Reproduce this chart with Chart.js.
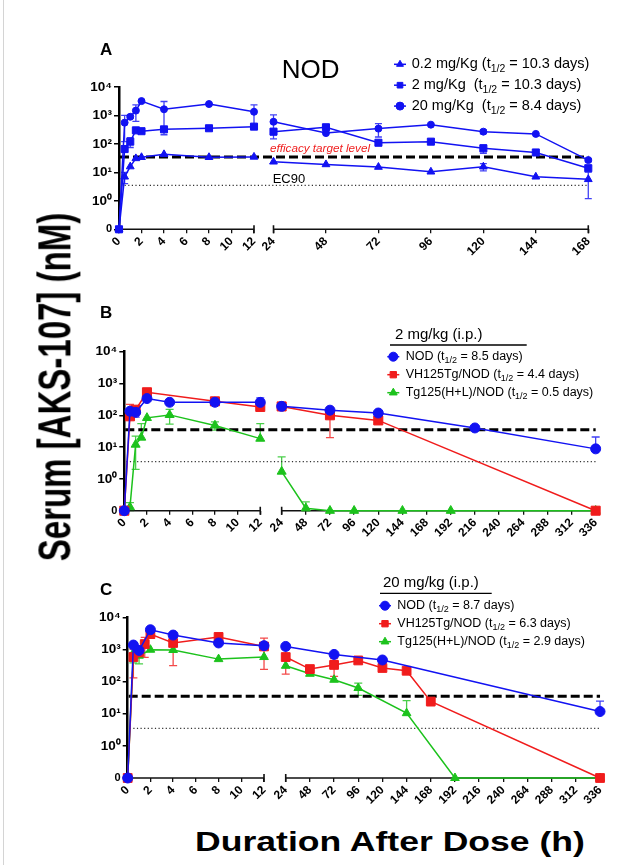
<!DOCTYPE html>
<html>
<head>
<meta charset="utf-8">
<script src="https://cdn.jsdelivr.net/npm/chart.js@4.4.1/dist/chart.umd.min.js"></script>
<style>
  body { margin: 0; background: #fff; font-family: "Liberation Sans", Arial, sans-serif; }
  #page { position: relative; width: 641px; height: 865px; overflow: hidden; background: #fff; }
  canvas { position: absolute; left: 0; }
  .edge { position: absolute; left: 3px; top: 0; width: 1px; height: 865px; background: #d4d4d4; }
  .letter { position: absolute; font-weight: bold; font-size: 17px; color: #000; }
  .ytitle, .xtitle { position: absolute; font-weight: bold; color: #000; white-space: nowrap; }
  .ytitle { left: 55px; top: 387px; font-size: 33px; transform: translate(-50%, -50%) scale(1.4, 1) rotate(-90deg); transform-origin: center; }
  .xtitle { left: 390px; top: 842px; font-size: 28px; transform: translate(-50%, -50%) scale(1.27, 1); }
</style>
</head>
<body>
<div id="page">
  <div class="edge"></div>
  <canvas id="chartA" width="641" height="240" style="top:30px"></canvas>
  <canvas id="chartB" width="641" height="265" style="top:290px"></canvas>
  <canvas id="chartC" width="641" height="265" style="top:560px"></canvas>
  <div class="letter" style="left:100px;top:40px">A</div>
  <div class="letter" style="left:100px;top:303px">B</div>
  <div class="letter" style="left:100px;top:580px">C</div>
  <div class="ytitle">Serum [AKS-107] (nM)</div>
  <div class="xtitle">Duration After Dose (h)</div>
</div>
<script>
// ---- data (hours after dose, serum nM; 0 = below detection) ----
const ZERO = 0.1; // where the "0" row sits on the log axis
const yTickVals = [0.1, 1, 10, 100, 1000, 10000];
const yTickText = ['0', '10⁰', '10¹', '10²', '10³', '10⁴'];
const xTicksA = [0, 2, 4, 6, 8, 10, 12, 24, 48, 72, 96, 120, 144, 168];
const xTicksBC = [0, 2, 4, 6, 8, 10, 12, 24, 48, 72, 96, 120, 144, 168, 192, 216, 240, 264, 288, 312, 336];
const TARGET = 35;  // efficacy target level
const EC90 = 3.5;

// panel A: NOD mice, three doses
const hoursA = [0, 0.5, 1, 1.5, 2, 4, 8, 12, 24, 48, 72, 96, 120, 144, 168];
const a02 = [0, 7, 16, 31, 34, 43, 34, 35, 23.6, 19, 15.4, 10.5, 15.8, 7, 5.7];
const a02sd = [0, 3, 0, 0, 0, 0, 0, 0, 0, 0, 0, 0, 4.5, 0, 4.5];
const a2 = [0, 66, 120, 300, 280, 325, 355, 405, 270, 385, 110, 120, 70, 50, 14];
const a2sd = [0, 0, 45, 0, 0, 0, 0, 60, 60, 0, 0, 0, 23, 0, 0];
const a20 = [0, 560, 900, 1480, 3200, 1650, 2520, 1350, 600, 240, 345, 475, 270, 225, 27];
const a20sd = [0, 440, 100, 860, 0, 1440, 0, 990, 450, 0, 170, 0, 40, 0, 3];

// panel B: 2 mg/kg i.p.
const hoursBnod = [0, 0.5, 1, 2, 4, 8, 12, 24, 72, 120, 216, 336];
const bNod = [0, 134, 124, 336, 257, 257, 255, 191, 145, 118, 40, 8.8];
const bNodSd = [0, 0, 37, 0, 0, 0, 100, 0, 0, 0, 0, 12];
const hoursBvh = [0, 0.5, 1, 2, 8, 12, 24, 72, 120, 336];
const bVh = [0, 93, 150, 530, 275, 183, 190, 100, 69, 0];
const bVhSd = [0, 126, 0, 0, 0, 0, 0, 80, 0, 0];
const hoursBtg = [0, 0.5, 1, 1.5, 2, 4, 8, 12, 24, 48, 72, 96, 144, 192, 336];
const bTg = [0, 0.13, 12, 20, 83, 103, 48, 18.5, 1.7, 0.12, 0, 0, 0, 0, 0];
const bTgSd = [0, 0.05, 10, 35, 0, 50, 14, 36, 3.2, 0.07, 0, 0, 0, 0, 0];

// panel C: 20 mg/kg i.p.
const hoursCnod = [0, 0.5, 1, 2, 4, 8, 12, 24, 72, 120, 336];
const cNod = [0, 1370, 930, 4100, 2800, 1590, 1310, 1240, 700, 470, 11.7];
const cNodSd = [0, 0, 0, 0, 0, 0, 0, 0, 0, 0, 13];
const hoursCvh = [0, 0.5, 1, 1.5, 2, 4, 8, 12, 24, 48, 72, 96, 120, 144, 168, 336];
const cVh = [0, 580, 810, 1470, 3000, 1590, 2450, 1240, 580, 245, 330, 455, 265, 217, 24, 0];
const cVhSd = [0, 450, 0, 900, 0, 1275, 0, 1000, 410, 0, 185, 0, 0, 0, 6, 0];
const hoursCtg = [0, 0.5, 1, 2, 4, 8, 12, 24, 48, 72, 96, 144, 192, 336];
const cTg = [0, 780, 640, 980, 960, 500, 580, 310, 175, 114, 63, 10.4, 0, 0];
const cTgSd = [0, 400, 285, 0, 0, 0, 0, 0, 0, 0, 26, 15, 0, 0];

const BLUE = '#1212f2';
const RED = '#f01c1c';
const GREEN = '#1cc21c';

Chart.defaults.font.family = '"Liberation Sans", Arial, sans-serif';
Chart.defaults.color = '#000';

// broken x axis: 0-12 h at one scale, 24 h onwards at another
function makeBreak(pxL, gap, pxR) {
  return h => h <= 12 ? h * pxL : 12 * pxL + gap + (h - 24) * pxR;
}

function series(label, hours, vals, sd, brk, color, style, radius, order) {
  const data = [], errs = [];
  hours.forEach((h, i) => {
    if (i > 0 && hours[i - 1] <= 12 && h >= 24) {
      data.push({ x: brk(18), y: null });
      errs.push(null);
    }
    data.push({ x: brk(h), y: vals[i] === 0 ? ZERO : vals[i] });
    errs.push(sd[i] ? [vals[i] - sd[i], vals[i] + sd[i]] : null);
  });
  return {
    label, data, errs, order,
    borderColor: color, backgroundColor: color,
    borderWidth: 1.5, pointStyle: style, pointRadius: radius,
    pointBorderWidth: 1, pointBackgroundColor: color,
    tension: 0, clip: false, spanGaps: false
  };
}

const errorBars = {
  id: 'errorBars',
  beforeDatasetsDraw(chart, args, opts) {
    const { ctx } = chart;
    const y = chart.scales.y;
    ctx.save();
    chart.data.datasets.forEach((ds, di) => {
      const meta = chart.getDatasetMeta(di);
      ctx.strokeStyle = ds.borderColor;
      ctx.globalAlpha = 0.8;
      ctx.lineWidth = 1.3;
      meta.data.forEach((pt, i) => {
        const e = ds.errs[i];
        if (!e || pt.skip) return;
        const yHi = y.getPixelForValue(e[1]);
        const yLo = e[0] > 0 ? y.getPixelForValue(Math.max(e[0], ZERO)) : pt.y;
        const w = opts.cap;
        ctx.beginPath();
        ctx.moveTo(pt.x, yHi); ctx.lineTo(pt.x, yLo);
        ctx.moveTo(pt.x - w, yHi); ctx.lineTo(pt.x + w, yHi);
        if (e[0] > 0) { ctx.moveTo(pt.x - w, yLo); ctx.lineTo(pt.x + w, yLo); }
        ctx.stroke();
      });
    });
    ctx.restore();
  }
};

const refLines = {
  id: 'refLines',
  beforeDatasetsDraw(chart, args, opts) {
    const { ctx, chartArea: a } = chart;
    const y = chart.scales.y;
    const x = chart.scales.x;
    ctx.save();
    // the axis line is broken between 12 h and 24 h
    const b = a.bottom;
    const x12 = x.getPixelForValue(opts.brk(12));
    const x24 = x.getPixelForValue(opts.brk(24));
    ctx.strokeStyle = '#111';
    ctx.lineWidth = 1.6;
    ctx.beginPath();
    ctx.moveTo(a.left, b); ctx.lineTo(x12, b);
    ctx.moveTo(x24, b); ctx.lineTo(a.right, b);
    [x12, x24, a.right].forEach(px => { ctx.moveTo(px, b - 4); ctx.lineTo(px, b + 4); });
    ctx.stroke();

    const yt = y.getPixelForValue(TARGET);
    ctx.strokeStyle = '#000';
    ctx.lineWidth = 3;
    ctx.setLineDash([9, 4]);
    ctx.beginPath(); ctx.moveTo(a.left + 1, yt); ctx.lineTo(a.right, yt); ctx.stroke();
    const ye = y.getPixelForValue(EC90);
    ctx.strokeStyle = '#333';
    ctx.lineWidth = 1.2;
    ctx.setLineDash([1.2, 2.4]);
    ctx.beginPath(); ctx.moveTo(a.left + 2, ye); ctx.lineTo(a.right, ye); ctx.stroke();
    ctx.setLineDash([]);

    (opts.notes || []).forEach(n => {
      ctx.font = n.font;
      ctx.fillStyle = n.color;
      ctx.textAlign = 'left';
      ctx.textBaseline = 'alphabetic';
      const base = n.on === 'target' ? yt : n.on === 'ec90' ? ye : a.top;
      ctx.fillText(n.text, a.left + n.dx, base + n.dy);
    });
    ctx.restore();
  }
};

function drawRich(ctx, text, x, y, size) {
  const parts = text.split(/_\{([^}]*)\}/);
  ctx.textBaseline = 'middle';
  ctx.textAlign = 'left';
  parts.forEach((p, i) => {
    const sub = i % 2 === 1;
    ctx.font = (sub ? size * 0.72 : size) + 'px "Liberation Sans", Arial, sans-serif';
    ctx.fillText(p, x, sub ? y + size * 0.32 : y);
    x += ctx.measureText(p).width;
  });
}

const keyBox = {
  id: 'keyBox',
  afterDraw(chart, args, opts) {
    const { ctx, chartArea: a } = chart;
    ctx.save();
    ctx.fillStyle = '#000';
    if (opts.title) {
      ctx.font = opts.titleSize + 'px "Liberation Sans", Arial, sans-serif';
      ctx.textBaseline = 'middle';
      ctx.textAlign = 'left';
      ctx.fillText(opts.title, a.left + opts.titleX, a.top + opts.titleY);
      ctx.strokeStyle = '#000';
      ctx.lineWidth = 1.3;
      ctx.beginPath();
      ctx.moveTo(a.left + opts.ruleX[0], a.top + opts.ruleY);
      ctx.lineTo(a.left + opts.ruleX[1], a.top + opts.ruleY);
      ctx.stroke();
    }
    chart.data.datasets.forEach((ds, i) => {
      const yy = a.top + opts.rowY + i * opts.rowH;
      const xx = a.left + opts.markX;
      ctx.strokeStyle = ds.borderColor;
      ctx.fillStyle = ds.backgroundColor;
      ctx.lineWidth = 1.5;
      ctx.beginPath(); ctx.moveTo(xx - 6, yy); ctx.lineTo(xx + 6, yy); ctx.stroke();
      ctx.lineWidth = 1;
      Chart.helpers.drawPoint(ctx, { pointStyle: ds.pointStyle, radius: opts.markR, rotation: 0, borderWidth: 1 }, xx, yy);
      ctx.fillStyle = '#000';
      drawRich(ctx, ds.label, a.left + opts.textX, yy, opts.size);
    });
    ctx.restore();
  }
};

const YW = 45, XH = 34;

function panel(id, box, ticks, datasets, key, notes) {
  const brk = makeBreak(box.pxL, box.gap, box.pxR);
  const canvas = document.getElementById(id);
  const maxH = ticks[ticks.length - 1];
  const right = box.left + brk(maxH);
  const sets = datasets.map(d => series(d[0], d[1], d[2], d[3], brk, d[4], d[5], d[6], d[7]));
  return new Chart(canvas, {
    type: 'line',
    data: { datasets: sets },
    plugins: [errorBars, refLines, keyBox],
    options: {
      responsive: false,
      animation: false,
      layout: {
        padding: {
          left: box.left - YW,
          right: 641 - right,
          top: box.top - box.canvasTop,
          bottom: box.canvasTop + canvas.height - box.bottom - XH
        }
      },
      scales: {
        x: {
          type: 'linear',
          min: 0,
          max: brk(maxH),
          afterFit: s => { s.height = XH; },
          afterBuildTicks: s => { s.ticks = ticks.map(h => ({ value: brk(h) })); },
          ticks: {
            autoSkip: false, minRotation: 45, maxRotation: 45, padding: 1,
            font: { size: 12, weight: 'bold' }, color: '#000',
            callback: (v, i) => String(ticks[i])
          },
          grid: { display: true, drawOnChartArea: false, drawTicks: true, tickLength: 4, color: '#111', lineWidth: 1.3 },
          border: { display: false }
        },
        y: {
          type: 'logarithmic',
          min: ZERO,
          max: 10000,
          afterFit: s => { s.width = YW; },
          afterBuildTicks: s => { s.ticks = yTickVals.map(v => ({ value: v })); },
          ticks: {
            padding: 2, color: '#000',
            font: c => ({ size: c.index === 0 ? 11 : 13.5, weight: 'bold' }),
            callback: (v, i) => yTickText[i]
          },
          grid: { display: true, drawOnChartArea: false, drawTicks: true, tickLength: 5, color: '#000', lineWidth: 1.5 },
          border: { display: true, color: '#000', width: 2.5 }
        }
      },
      plugins: {
        legend: { display: false },
        tooltip: { enabled: false },
        errorBars: { cap: box.cap },
        refLines: { brk, notes },
        keyBox: key
      }
    }
  });
}

panel('chartA',
  { canvasTop: 30, top: 87, bottom: 229.3, left: 119, pxL: 11.25, gap: 19.5, pxR: 2.186, cap: 3.5 },
  xTicksA,
  [
    ['0.2 mg/Kg (t_{1/2} = 10.3 days)', hoursA, a02, a02sd, BLUE, 'triangle', 4.5, 3],
    ['2 mg/Kg  (t_{1/2} = 10.3 days)', hoursA, a2, a2sd, BLUE, 'rect', 5, 2],
    ['20 mg/Kg  (t_{1/2} = 8.4 days)', hoursA, a20, a20sd, BLUE, 'circle', 3.5, 1]
  ],
  { rowY: -22.7, rowH: 20.9, markX: 281, markR: 4, textX: 292.7, size: 14.5 },
  [
    { text: 'NOD', on: 'top', dx: 162.7, dy: -9, font: '26px "Liberation Sans", Arial, sans-serif', color: '#000' },
    { text: 'efficacy target level', on: 'target', dx: 151, dy: -4.5, font: 'italic 11.7px "Liberation Sans", Arial, sans-serif', color: '#f02020' },
    { text: 'EC90', on: 'ec90', dx: 153.7, dy: -2.4, font: '13px "Liberation Sans", Arial, sans-serif', color: '#000' }
  ]
);

panel('chartB',
  { canvasTop: 290, top: 351.7, bottom: 510.7, left: 124.3, pxL: 11.33, gap: 21.4, pxR: 1.0064, cap: 4 },
  xTicksBC,
  [
    ['NOD (t_{1/2} = 8.5 days)', hoursBnod, bNod, bNodSd, BLUE, 'circle', 5, 1],
    ['VH125Tg/NOD (t_{1/2} = 4.4 days)', hoursBvh, bVh, bVhSd, RED, 'rect', 6.4, 2],
    ['Tg125(H+L)/NOD (t_{1/2} = 0.5 days)', hoursBtg, bTg, bTgSd, GREEN, 'triangle', 5.2, 3]
  ],
  { title: '2 mg/kg (i.p.)', titleSize: 15, titleX: 270.7, titleY: -16.7, ruleX: [265.7, 402.4], ruleY: -6.7,
    rowY: 5, rowH: 18, markX: 269, markR: 4.5, textX: 281.4, size: 12.5 },
  []
);

panel('chartC',
  { canvasTop: 560, top: 617.3, bottom: 778, left: 127.7, pxL: 11.36, gap: 21.7, pxR: 1.0074, cap: 4 },
  xTicksBC,
  [
    ['NOD (t_{1/2} = 8.7 days)', hoursCnod, cNod, cNodSd, BLUE, 'circle', 5, 1],
    ['VH125Tg/NOD (t_{1/2} = 6.3 days)', hoursCvh, cVh, cVhSd, RED, 'rect', 6.2, 2],
    ['Tg125(H+L)/NOD (t_{1/2} = 2.9 days)', hoursCtg, cTg, cTgSd, GREEN, 'triangle', 5, 3]
  ],
  { title: '20 mg/kg (i.p.)', titleSize: 15, titleX: 255.3, titleY: -34, ruleX: [252.3, 364], ruleY: -24,
    rowY: -11.6, rowH: 18, markX: 257.3, markR: 4.5, textX: 269.6, size: 12.5 },
  []
);
</script>
</body>
</html>
